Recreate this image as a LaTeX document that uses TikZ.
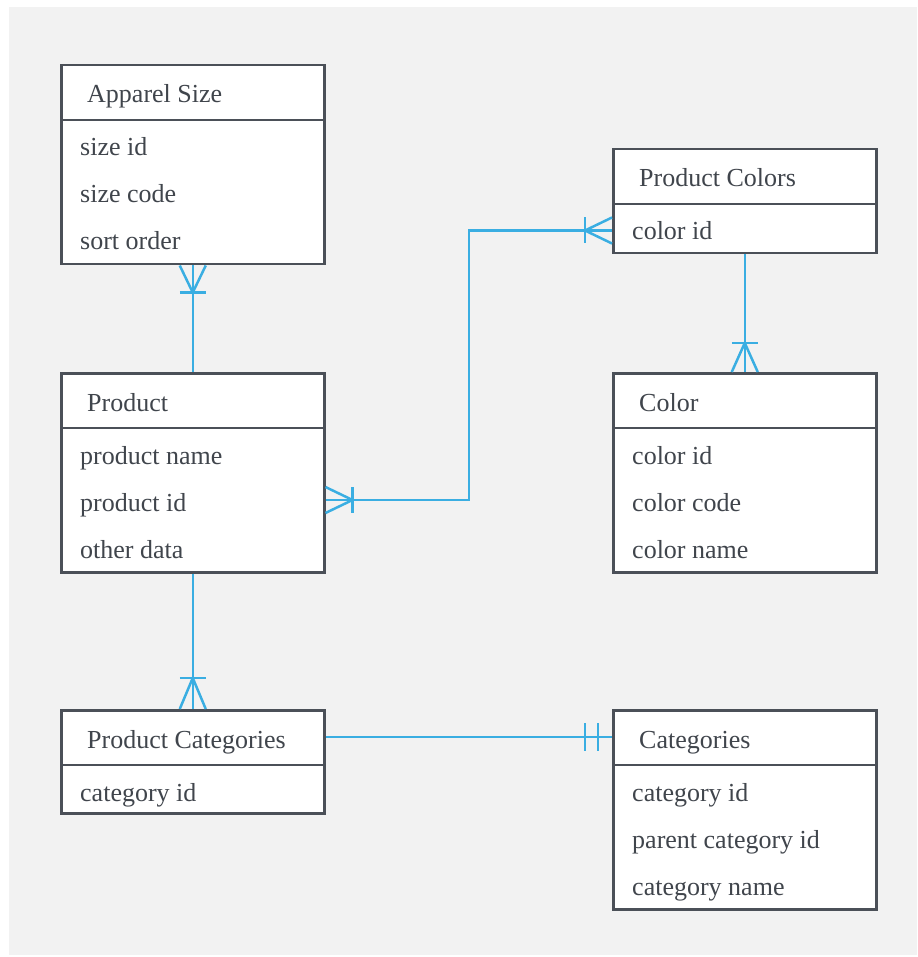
\documentclass[tikz,border=0pt]{standalone}
\usepackage{fontspec}
\setmainfont{Liberation Serif}
\usetikzlibrary{calc}
\definecolor{bgc}{HTML}{F2F2F2}
\definecolor{bdc}{HTML}{4B5058}
\definecolor{txc}{HTML}{40454C}
\definecolor{rlc}{HTML}{3AAEE2}
\begin{document}
\begin{tikzpicture}[x=1pt,y=-1pt,
  ent/.style={draw=bdc, line width=2.5pt, fill=white, anchor=north west, minimum width=263pt, inner sep=0pt},
  hd/.style={anchor=base west, text=txc, font=\fontsize{26}{31}\selectfont, inner sep=0pt},
  fld/.style={anchor=base west, text=txc, font=\fontsize{26}{31}\selectfont, inner sep=0pt},
  rel/.style={draw=rlc, line width=2.5pt},
  sepline/.style={draw=bdc, line width=2.5pt}]
\useasboundingbox (0,0) rectangle (917,957);
\fill[bgc] (9,7) rectangle (917,955);

% Apparel Size
\node[ent, minimum height=199pt] (apparel) at (60,64) {};
\draw[sepline] ($(apparel.north west)+(0,56)$) -- ($(apparel.north east)+(0,56)$);
\node[hd] (apparelh) at ($(apparel.north west)+(27,39)$) {Apparel Size};
\node[fld] (apparel1) at ($(apparel.north west)+(20,92)$) {size id};
\node[fld] (apparel2) at ($(apparel.north west)+(20,139)$) {size code};
\node[fld] (apparel3) at ($(apparel.north west)+(20,186)$) {sort order};

% Product
\node[ent, minimum height=199pt] (product) at (60,372) {};
\draw[sepline] ($(product.north west)+(0,56)$) -- ($(product.north east)+(0,56)$);
\node[hd] (producth) at ($(product.north west)+(27,39)$) {Product};
\node[fld] (product1) at ($(product.north west)+(20,92)$) {product name};
\node[fld] (product2) at ($(product.north west)+(20,139)$) {product id};
\node[fld] (product3) at ($(product.north west)+(20,186)$) {other data};

% Product Colors
\node[ent, minimum height=104pt] (pcolors) at (612,148) {};
\draw[sepline] ($(pcolors.north west)+(0,56)$) -- ($(pcolors.north east)+(0,56)$);
\node[hd] (pcolorsh) at ($(pcolors.north west)+(27,39)$) {Product Colors};
\node[fld] (pcolors1) at ($(pcolors.north west)+(20,92)$) {color id};

% Color
\node[ent, minimum height=199pt] (color) at (612,372) {};
\draw[sepline] ($(color.north west)+(0,56)$) -- ($(color.north east)+(0,56)$);
\node[hd] (colorh) at ($(color.north west)+(27,39)$) {Color};
\node[fld] (color1) at ($(color.north west)+(20,92)$) {color id};
\node[fld] (color2) at ($(color.north west)+(20,139)$) {color code};
\node[fld] (color3) at ($(color.north west)+(20,186)$) {color name};

% Product Categories
\node[ent, minimum height=103pt] (pcat) at (60,709) {};
\draw[sepline] ($(pcat.north west)+(0,56)$) -- ($(pcat.north east)+(0,56)$);
\node[hd] (pcath) at ($(pcat.north west)+(27,39)$) {Product Categories};
\node[fld] (pcat1) at ($(pcat.north west)+(20,92)$) {category id};

% Categories
\node[ent, minimum height=199pt] (cats) at (612,709) {};
\draw[sepline] ($(cats.north west)+(0,56)$) -- ($(cats.north east)+(0,56)$);
\node[hd] (catsh) at ($(cats.north west)+(27,39)$) {Categories};
\node[fld] (cats1) at ($(cats.north west)+(20,92)$) {category id};
\node[fld] (cats2) at ($(cats.north west)+(20,139)$) {parent category id};
\node[fld] (cats3) at ($(cats.north west)+(20,186)$) {category name};

% Apparel Size -- Product
\draw[rel] (apparel.south) -- (product.north);
\draw[rel] ($(apparel.south)+(-13,0)$) -- ($(apparel.south)+(0,27)$) -- ($(apparel.south)+(13,0)$);
\draw[rel] ($(apparel.south)+(-13,27)$) -- ++(26,0);

% Product -- Product Colors
\coordinate (p2) at ($(product.north east)+(0,128)$);
\coordinate (c2) at ($(pcolors.south west)+(0,-24)$);
\coordinate (m2) at ($(p2)!.5!(c2)$);
\draw[rel] (p2) -| (m2) |- (c2);
\draw[rel] ($(p2)+(0,-13)$) -- ($(p2)+(27,0)$) -- ($(p2)+(0,13)$);
\draw[rel] ($(p2)+(27,-13)$) -- ++(0,26);
\draw[rel] ($(c2)+(0,-13)$) -- ($(c2)+(-27,0)$) -- ($(c2)+(0,13)$);
\draw[rel] ($(c2)+(-27,-13)$) -- ++(0,26);

% Product Colors -- Color
\draw[rel] (pcolors.south) -- (color.north);
\draw[rel] ($(color.north)+(-13,0)$) -- ($(color.north)+(0,-29)$) -- ($(color.north)+(13,0)$);
\draw[rel] ($(color.north)+(-13,-29)$) -- ++(26,0);

% Product -- Product Categories
\draw[rel] (product.south) -- (pcat.north);
\draw[rel] ($(pcat.north)+(-13,0)$) -- ($(pcat.north)+(0,-31)$) -- ($(pcat.north)+(13,0)$);
\draw[rel] ($(pcat.north)+(-13,-31)$) -- ++(26,0);

% Product Categories -- Categories
\coordinate (p5) at ($(pcat.north east)+(0,28)$);
\coordinate (c5) at ($(cats.north west)+(0,28)$);
\draw[rel] (p5) -- (c5);
\draw[rel] ($(c5)+(-27,-14)$) -- ++(0,28);
\draw[rel] ($(c5)+(-14,-14)$) -- ++(0,28);
\end{tikzpicture}
\end{document}
